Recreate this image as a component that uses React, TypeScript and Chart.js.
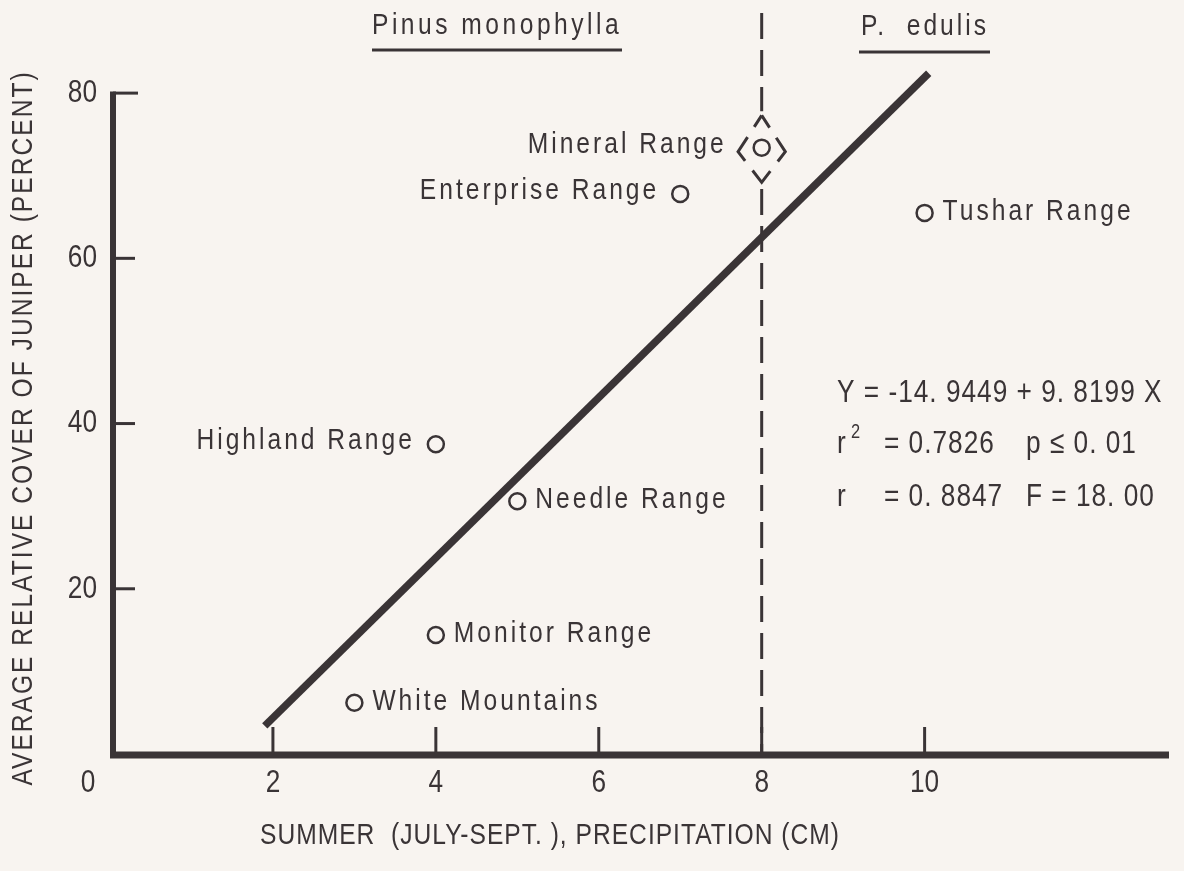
import React, { useEffect, useRef } from 'react';
import { Chart, registerables } from 'chart.js';

Chart.register(...registerables);

// ---- data ----
const siteNames = [
  'White Mountains',
  'Monitor Range',
  'Highland Range',
  'Needle Range',
  'Enterprise Range',
  'Mineral Range',
  'Tushar Range',
];
const precipitationCm = [3, 4, 4, 5, 7, 8, 10];
const juniperCoverPct = [6.2, 14.4, 37.5, 30.6, 67.8, 73.4, 65.5];

const regressionX = [1.9, 10.05];
const regressionY = [3.4, 82.4];

const boundaryX = 8;
const boundaryY = [89.7, 77.8, NaN, 68.4, 0];

const diamondX = [8, 8.29, 8, 7.71, 8];
const diamondY = [77.3, 72.9, 69.2, 72.9, 77.3];

const xTickValues = [2, 4, 6, 8, 10];
const yTickValues = [20, 40, 60, 80];

const yTitle = 'AVERAGE RELATIVE COVER OF JUNIPER (PERCENT)';
const xTitle = 'SUMMER  (JULY-SEPT. ), PRECIPITATION (CM)';
const speciesLeft = 'Pinus monophylla';
const speciesRight = 'P.  edulis';
const eqLine1 = 'Y = -14. 9449 + 9. 8199 X';
const eqR2 = '= 0.7826';
const eqP = 'p \u2264 0. 01';
const eqR = '= 0. 8847';
const eqF = 'F = 18. 00';

// label side for each site (left = text before marker)
const labelLeft = new Set(['Highland Range', 'Enterprise Range', 'Mineral Range']);

// ---- styling ----
const INK = '#3a3436';
const BG = '#f8f4f0';
const FONT = '"Liberation Sans", Arial, sans-serif';
const NARROW = 0.82;

function txt(
  ctx: CanvasRenderingContext2D,
  s: string,
  x: number,
  y: number,
  size: number,
  align: CanvasTextAlign,
  spacing: number
) {
  ctx.save();
  ctx.translate(x, y);
  ctx.scale(NARROW, 1);
  ctx.font = `${size}px ${FONT}`;
  (ctx as any).letterSpacing = `${spacing / NARROW}px`;
  ctx.textAlign = align;
  ctx.textBaseline = 'middle';
  ctx.fillStyle = INK;
  ctx.fillText(s, 0, 0);
  ctx.restore();
}

const decorPlugin = {
  id: 'decor',
  beforeDraw(chart: any) {
    const { ctx, width, height } = chart;
    ctx.save();
    ctx.fillStyle = BG;
    ctx.fillRect(0, 0, width, height);
    ctx.restore();
  },
  afterDraw(chart: any) {
    const { ctx, chartArea } = chart;
    const xs = chart.scales.x;
    const ys = chart.scales.y;
    const x0 = xs.getPixelForValue(0);
    const y0 = ys.getPixelForValue(0);
    const yTop = ys.getPixelForValue(80);

    ctx.save();
    ctx.strokeStyle = INK;
    ctx.lineCap = 'butt';
    // y axis
    ctx.lineWidth = 6;
    ctx.beginPath();
    ctx.moveTo(x0 + 3, yTop - 1.5);
    ctx.lineTo(x0 + 3, y0 + 4);
    ctx.stroke();
    // x axis
    ctx.lineWidth = 7;
    ctx.beginPath();
    ctx.moveTo(x0, y0 + 1);
    ctx.lineTo(chartArea.right, y0 + 1);
    ctx.stroke();
    // y ticks (inside)
    ctx.lineWidth = 3;
    yTickValues.forEach((v) => {
      const py = ys.getPixelForValue(v);
      ctx.beginPath();
      ctx.moveTo(x0 + 3, py);
      ctx.lineTo(x0 + (v === 80 ? 28 : 25), py);
      ctx.stroke();
    });
    // x ticks (inside)
    xTickValues.forEach((v) => {
      const px = xs.getPixelForValue(v);
      ctx.beginPath();
      ctx.moveTo(px, y0);
      ctx.lineTo(px, y0 - 27);
      ctx.stroke();
    });
    ctx.restore();

    // tick labels
    yTickValues.forEach((v) => {
      txt(ctx, String(v), x0 - 13, ys.getPixelForValue(v), 32, 'right', 0);
    });
    xTickValues.forEach((v) => {
      txt(ctx, String(v), xs.getPixelForValue(v), y0 + 29, 32, 'center', 0);
    });
    // origin label
    txt(ctx, '0', x0 - 22, y0 + 29, 32, 'center', 0);

    // axis titles
    ctx.save();
    ctx.translate(24, 428);
    ctx.rotate(-Math.PI / 2);
    txt(ctx, yTitle, 0, 0, 30, 'center', 2);
    ctx.restore();
    txt(ctx, xTitle, 550, 836, 30, 'center', 1);

    // species headings
    txt(ctx, speciesLeft, 372, 26, 30, 'left', 3.5);
    txt(ctx, speciesRight, 861, 27, 30, 'left', 3);
    ctx.save();
    ctx.strokeStyle = INK;
    ctx.lineWidth = 3;
    ctx.beginPath();
    ctx.moveTo(372, 50);
    ctx.lineTo(622, 50);
    ctx.moveTo(859, 52);
    ctx.lineTo(990, 52);
    ctx.stroke();
    ctx.restore();

    // site labels
    siteNames.forEach((name, i) => {
      const px = xs.getPixelForValue(precipitationCm[i]);
      const py = ys.getPixelForValue(juniperCoverPct[i]);
      if (labelLeft.has(name)) {
        const gap = name === 'Mineral Range' ? 35 : 21;
        txt(ctx, name, px - gap, py - 3, 30, 'right', 3);
      } else {
        txt(ctx, name, px + 18, py - 1, 30, 'left', 3);
      }
    });

    // regression statistics
    txt(ctx, eqLine1, 837, 393, 32, 'left', 1);
    txt(ctx, 'r', 837, 444, 32, 'left', 1);
    txt(ctx, '2', 851, 432, 20, 'left', 0);
    txt(ctx, eqR2, 884, 444, 32, 'left', 1);
    txt(ctx, eqP, 1026, 444, 32, 'left', 1);
    txt(ctx, 'r', 837, 497, 32, 'left', 1);
    txt(ctx, eqR, 884, 497, 32, 'left', 1);
    txt(ctx, eqF, 1026, 497, 32, 'left', 1);
  },
};

export default function App() {
  const ref = useRef<HTMLCanvasElement | null>(null);

  useEffect(() => {
    if (!ref.current) return;
    const points = precipitationCm.map((x, i) => ({ x, y: juniperCoverPct[i] }));
    const regression = regressionX.map((x, i) => ({ x, y: regressionY[i] }));
    const boundary = boundaryY.map((y) => ({ x: boundaryX, y: isNaN(y) ? null : y }));
    const diamond = diamondX.map((x, i) => ({ x, y: diamondY[i] }));

    const chart = new Chart(ref.current, {
      type: 'scatter',
      data: {
        datasets: [
          {
            type: 'scatter',
            data: points,
            pointRadius: 8,
            pointBorderWidth: 2.5,
            pointBorderColor: INK,
            pointBackgroundColor: BG,
            order: 0,
          } as any,
          {
            type: 'line',
            data: regression,
            borderColor: INK,
            borderWidth: 7.5,
            pointRadius: 0,
            borderCapStyle: 'butt',
            fill: false,
            order: 1,
          } as any,
          {
            type: 'line',
            data: boundary,
            borderColor: INK,
            borderWidth: 3,
            borderDash: [26, 11],
            pointRadius: 0,
            spanGaps: false,
            fill: false,
            order: 2,
          } as any,
          {
            type: 'line',
            data: diamond,
            borderColor: INK,
            borderWidth: 3,
            borderDash: [29, 12.2],
            borderDashOffset: 14.5,
            pointRadius: 0,
            fill: false,
            tension: 0,
            order: 2,
          } as any,
        ],
      },
      options: {
        animation: false,
        responsive: true,
        maintainAspectRatio: false,
        events: [],
        layout: { padding: { top: 9, right: 15, left: 0, bottom: 0 } },
        plugins: { legend: { display: false }, tooltip: { enabled: false } },
        scales: {
          x: {
            type: 'linear',
            min: 0,
            max: 13,
            grid: { display: false, drawTicks: false },
            border: { display: false },
            ticks: { display: false, stepSize: 2 },
            afterFit: (s: any) => {
              s.height = 117;
            },
          },
          y: {
            type: 'linear',
            min: 0,
            max: 90,
            grid: { display: false, drawTicks: false },
            border: { display: false },
            ticks: { display: false, stepSize: 20 },
            afterFit: (s: any) => {
              s.width = 110;
            },
          },
        },
      },
      plugins: [decorPlugin],
    });
    return () => chart.destroy();
  }, []);

  return (
    <div
      style={{
        position: 'fixed',
        left: 0,
        top: 0,
        width: 1184,
        height: 871,
        background: BG,
      }}
    >
      <canvas ref={ref} />
    </div>
  );
}
